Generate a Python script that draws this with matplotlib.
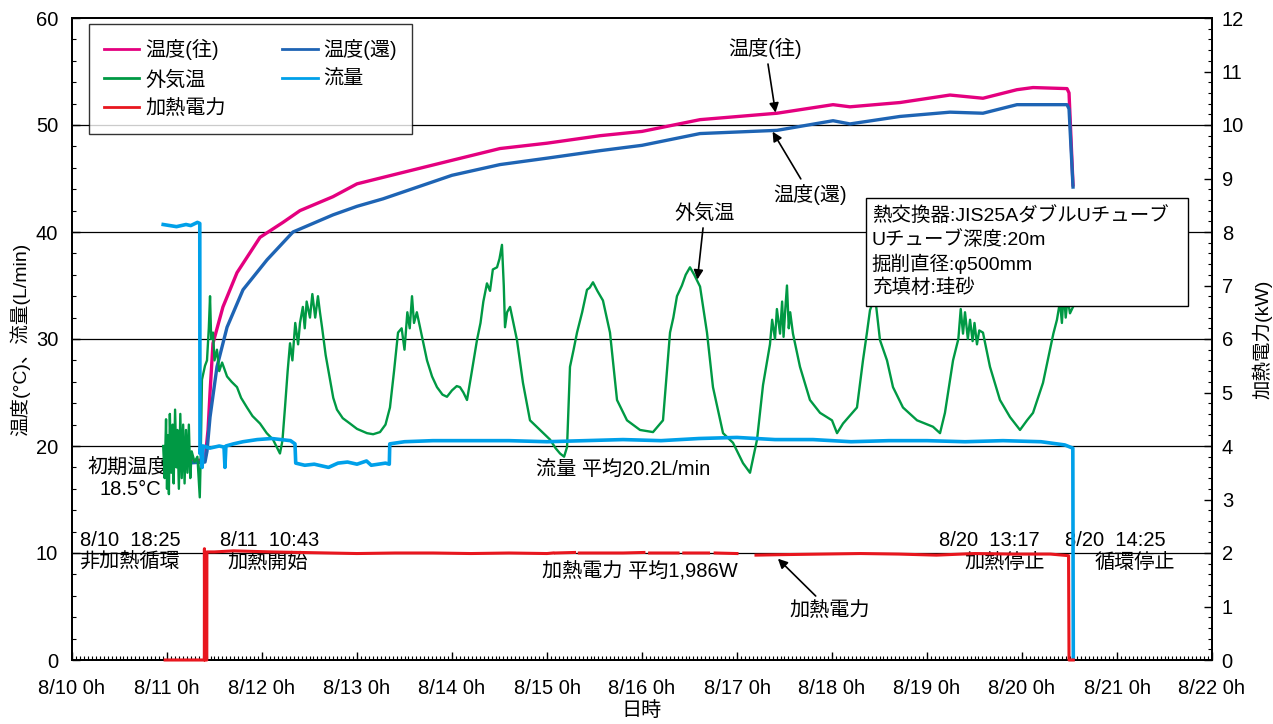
import numpy as np
import matplotlib
matplotlib.use("Agg")
import matplotlib.pyplot as plt
from matplotlib.ticker import MultipleLocator
from matplotlib.patches import Rectangle

plt.rcParams['font.family'] = ['Liberation Sans', 'Noto Sans CJK JP']
plt.rcParams['font.size'] = 14.5

# time axis: days elapsed since 8/10 0:00
day_labels = [f"8/{10 + i} 0h" for i in range(13)]

# supply temperature (往), °C
t_supply = [0.98, 1.20, 1.400, 1.432, 1.453, 1.484, 1.589, 1.737, 1.979, 2.221, 2.400, 2.747,
            3.000, 3.453, 4.000, 4.505, 5.000, 5.558, 6.000, 6.611, 7.421, 8.011, 8.189, 8.716,
            9.242, 9.589, 9.947, 10.116, 10.474, 10.495, 10.537]
v_supply = [18.6, 18.6, 18.7, 21.5, 25.0, 29.6, 33.0, 36.2, 39.5, 40.9, 42.0, 43.3,
            44.5, 45.5, 46.7, 47.8, 48.3, 49.0, 49.4, 50.5, 51.1, 51.9, 51.7, 52.1,
            52.8, 52.5, 53.3, 53.5, 53.4, 53.0, 44.4]

# return temperature (還), °C
t_return = [0.98, 1.20, 1.400, 1.421, 1.453, 1.526, 1.632, 1.800, 2.053, 2.326, 2.747, 3.000,
            3.274, 4.000, 4.505, 5.000, 5.558, 6.000, 6.611, 7.421, 8.011, 8.189, 8.716, 9.242,
            9.589, 9.947, 10.295, 10.474, 10.495, 10.537]
v_return = [18.4, 18.4, 18.5, 19.5, 22.7, 27.4, 31.1, 34.6, 37.4, 40.0, 41.6, 42.4,
            43.1, 45.3, 46.3, 46.9, 47.6, 48.1, 49.2, 49.5, 50.4, 50.1, 50.8, 51.2,
            51.1, 51.9, 51.9, 51.9, 51.5, 44.2]

# outside air temperature (外気温), °C
t_air = [0.960, 0.975, 0.990, 1.000, 1.010, 1.020, 1.030, 1.045, 1.060, 1.070, 1.085, 1.100,
         1.110, 1.125, 1.140, 1.155, 1.170, 1.185, 1.200, 1.215, 1.230, 1.245, 1.260, 1.290,
         1.320, 1.345, 1.355, 1.368, 1.400, 1.421, 1.440, 1.453, 1.465, 1.484, 1.500, 1.526,
         1.550, 1.580, 1.632, 1.680, 1.737, 1.780, 1.842, 1.900, 1.979, 2.050, 2.116, 2.150,
         2.189, 2.215, 2.242, 2.270, 2.295, 2.320, 2.350, 2.380, 2.400, 2.430, 2.450, 2.470,
         2.505, 2.530, 2.560, 2.589, 2.610, 2.632, 2.670, 2.716, 2.750, 2.789, 2.850, 2.926,
         3.000, 3.105, 3.170, 3.242, 3.300, 3.347, 3.390, 3.432, 3.470, 3.500, 3.530, 3.555,
         3.579, 3.600, 3.630, 3.663, 3.700, 3.737, 3.790, 3.842, 3.900, 3.947, 4.000, 4.050,
         4.084, 4.120, 4.158, 4.200, 4.263, 4.300, 4.330, 4.368, 4.400, 4.430, 4.474, 4.500,
         4.526, 4.545, 4.558, 4.580, 4.611, 4.684, 4.747, 4.821, 4.926, 5.032, 5.090, 5.137,
         5.180, 5.211, 5.242, 5.280, 5.316, 5.370, 5.421, 5.450, 5.484, 5.530, 5.589, 5.663,
         5.737, 5.842, 5.979, 6.116, 6.221, 6.295, 6.330, 6.368, 6.420, 6.460, 6.505, 6.550,
         6.611, 6.684, 6.747, 6.853, 6.958, 7.063, 7.137, 7.211, 7.274, 7.347, 7.370, 7.400,
         7.420, 7.453, 7.475, 7.490, 7.510, 7.526, 7.545, 7.560, 7.589, 7.663, 7.768, 7.874,
         8.000, 8.053, 8.116, 8.263, 8.326, 8.368, 8.400, 8.453, 8.505, 8.579, 8.642, 8.747,
         8.895, 9.063, 9.137, 9.189, 9.274, 9.330, 9.355, 9.379, 9.400, 9.430, 9.453, 9.480,
         9.500, 9.526, 9.550, 9.589, 9.663, 9.768, 9.874, 9.979, 10.053, 10.116, 10.221, 10.295,
         10.330, 10.368, 10.400, 10.420, 10.440, 10.460, 10.480, 10.505, 10.537]
v_air = [20.0, 17.0, 22.5, 16.0, 21.0, 15.5, 23.0, 17.5, 22.0, 16.5, 23.4, 18.0,
         21.5, 16.0, 23.0, 17.0, 22.0, 16.5, 21.5, 17.5, 22.0, 17.0, 19.5, 18.5,
         19.0, 15.2, 19.0, 26.2, 27.5, 28.0, 31.0, 34.0, 30.0, 30.6, 28.0, 29.0,
         27.0, 27.8, 26.5, 26.0, 25.5, 24.5, 23.6, 22.8, 22.1, 21.2, 20.6, 20.0,
         19.3, 20.5, 23.6, 27.0, 29.6, 28.0, 31.5, 29.5, 31.5, 33.0, 31.0, 33.5,
         32.0, 34.2, 32.0, 34.0, 32.5, 31.1, 28.5, 26.2, 24.5, 23.4, 22.6, 22.1,
         21.6, 21.2, 21.1, 21.3, 22.0, 23.6, 27.0, 30.6, 31.0, 29.0, 32.5, 31.0,
         34.0, 31.5, 32.5, 31.1, 29.5, 28.0, 26.5, 25.5, 24.8, 24.6, 25.2, 25.6,
         25.5, 25.0, 24.3, 26.5, 29.9, 31.5, 33.5, 35.2, 34.5, 36.5, 36.7, 37.5,
         38.8, 35.0, 31.1, 32.5, 33.0, 29.9, 25.9, 22.4, 21.5, 20.6, 19.8, 19.3,
         19.0, 19.9, 27.4, 29.0, 30.6, 32.5, 34.6, 34.8, 35.3, 34.5, 33.6, 30.6,
         24.3, 22.4, 21.5, 21.3, 22.4, 30.6, 32.0, 34.0, 35.0, 36.0, 36.7, 36.0,
         34.9, 30.6, 25.5, 21.2, 20.3, 18.4, 17.5, 20.6, 25.7, 29.5, 31.8, 30.0,
         32.8, 30.5, 33.5, 30.2, 33.0, 35.0, 31.0, 32.5, 30.5, 27.4, 24.3, 23.1,
         22.4, 21.2, 22.1, 23.6, 28.0, 30.6, 32.7, 34.0, 29.9, 28.0, 25.5, 23.6,
         22.4, 21.8, 21.2, 23.1, 28.0, 30.0, 32.8, 30.5, 32.5, 30.0, 31.8, 29.8,
         31.5, 29.5, 30.8, 30.6, 27.4, 24.3, 22.7, 21.5, 22.4, 23.1, 25.9, 29.0,
         30.5, 31.8, 33.5, 31.5, 34.5, 32.0, 33.8, 32.4, 33.0]

# circulation flow rate (流量), L/min
t_flow = [0.96, 1.10, 1.20, 1.25, 1.32, 1.345, 1.347, 1.36, 1.37, 1.38, 1.45, 1.55,
          1.60, 1.61, 1.62, 1.70, 1.80, 1.95, 2.10, 2.20, 2.30, 2.347, 2.355, 2.45,
          2.55, 2.70, 2.80, 2.90, 3.00, 3.10, 3.15, 3.30, 3.34, 3.345, 3.50, 3.80,
          4.20, 4.60, 5.00, 5.40, 5.80, 6.20, 6.60, 7.00, 7.40, 7.80, 8.20, 8.60,
          9.00, 9.40, 9.80, 10.20, 10.45, 10.535, 10.540]
v_flow = [40.7, 40.5, 40.7, 40.6, 40.9, 40.8, 19.3, 20.0, 18.0, 20.0, 19.8, 20.0,
          19.9, 18.0, 20.0, 20.2, 20.4, 20.6, 20.7, 20.6, 20.5, 20.2, 18.4, 18.2,
          18.3, 18.0, 18.4, 18.5, 18.3, 18.6, 18.2, 18.4, 18.3, 20.2, 20.4, 20.5,
          20.5, 20.5, 20.4, 20.5, 20.6, 20.5, 20.7, 20.8, 20.6, 20.6, 20.4, 20.5,
          20.5, 20.4, 20.5, 20.4, 20.1, 19.8, 0.0]

# heating power (加熱電力), kW
t_power = [0.98, 1.393, 1.394, 1.397, 1.419, 1.420, 1.50, 1.70, 1.90, 2.10, 2.40, 2.70,
           3.00, 3.40, 3.80, 4.20, 4.60, 5.00, 5.06, 5.07, 5.09, 5.29, 5.30, 5.34,
           5.80, 6.02, 6.03, 6.08, 6.38, 6.39, 6.44, 6.70, 6.71, 6.77, 7.00, 7.01,
           7.20, 7.50, 7.90, 8.30, 8.70, 9.10, 9.50, 9.90, 10.30, 10.49, 10.495, 10.54]
v_power = [0.0, 0.0, 2.08, 0.0, 0.0, 2.02, 2.02, 2.04, 2.03, 2.02, 2.01, 2.00,
           1.99, 2.00, 2.00, 1.99, 2.00, 1.99, 2.00, np.nan, 2.00, 2.01, np.nan, 2.00,
           2.00, 2.01, np.nan, 2.00, 2.00, np.nan, 2.00, 2.00, np.nan, 2.00, 1.99, np.nan,
           1.96, 1.97, 1.98, 1.99, 1.98, 1.96, 1.99, 1.98, 1.98, 1.95, 0.0, 0.0]

C_SUPPLY = '#E4007F'
C_RETURN = '#1E64B4'
C_AIR = '#009944'
C_FLOW = '#00A0E9'
C_POWER = '#E8161E'

fig = plt.figure(figsize=(12.73, 7.24), dpi=100)
ax = fig.add_axes([72 / 1273, 64 / 724, 1140 / 1273, 642 / 724])
ax2 = ax.twinx()

ax.set_xlim(0, 12)
ax.set_ylim(0, 60)
ax2.set_ylim(0, 12)

for g in range(10, 60, 10):
    ax.axhline(g, color='black', lw=0.9, zorder=1)

l_sup, = ax.plot(t_supply, v_supply, color=C_SUPPLY, lw=2.4, zorder=3, label='温度(往)')
l_ret, = ax.plot(t_return, v_return, color=C_RETURN, lw=2.4, zorder=3, label='温度(還)')
l_air, = ax.plot(t_air, v_air, color=C_AIR, lw=1.7, zorder=4, label='外気温')
l_flow, = ax.plot(t_flow, v_flow, color=C_FLOW, lw=2.6, zorder=5, label='流量')
l_pow, = ax2.plot(t_power, v_power, color=C_POWER, lw=2.2, zorder=5, clip_on=False,
                  label='加熱電力')

# axes, ticks
ax.set_xticks(range(13))
ax.set_xticklabels(day_labels)
ax.xaxis.set_minor_locator(MultipleLocator(1 / 24))
ax.yaxis.set_major_locator(MultipleLocator(10))
ax.yaxis.set_minor_locator(MultipleLocator(2))
ax2.yaxis.set_major_locator(MultipleLocator(1))
ax2.yaxis.set_minor_locator(MultipleLocator(0.2))
ax.tick_params(axis='both', which='major', direction='in', length=6, width=1.0)
ax.tick_params(axis='both', which='minor', direction='in', length=3, width=0.8)
ax.tick_params(axis='x', which='major', pad=14)
ax.tick_params(axis='y', which='major', pad=10)
ax2.tick_params(axis='y', which='major', direction='in', length=6, width=1.0, pad=7)
ax2.tick_params(axis='y', which='minor', direction='in', length=3, width=0.8)
for a in (ax, ax2):
    for s in a.spines.values():
        s.set_linewidth(1.3)

ax.set_xlabel('日時', labelpad=2)
ax.set_ylabel('温度(°C)、流量(L/min)', labelpad=4, fontsize=14)
ax2.set_ylabel('加熱電力(kW)', labelpad=6, fontsize=14)

# legend
leg = ax2.legend(handles=[l_sup, l_air, l_pow, l_ret, l_flow], ncol=2, loc='upper left',
                 bbox_to_anchor=(0.015, 0.991), borderaxespad=0, frameon=True,
                 fancybox=False, edgecolor='black', handlelength=1.75, handletextpad=0.3,
                 columnspacing=2.8, labelspacing=0.5, borderpad=0.75)
leg.get_frame().set_linewidth(1.0)
for h in leg.get_lines():
    h.set_linewidth(2.0)

# annotations (placed in temperature-axis coordinates)
arrow = dict(arrowstyle='-|>', color='black', lw=1.2, mutation_scale=14)
ax2.annotate('温度(往)', xy=(7.41, 50.9), xytext=(7.30, 57.2), xycoords=ax.transData,
             textcoords=ax.transData, ha='center', va='center', arrowprops=arrow)
ax2.annotate('温度(還)', xy=(7.36, 49.6), xytext=(7.77, 43.5), xycoords=ax.transData,
             textcoords=ax.transData, ha='center', va='center', arrowprops=arrow)
ax2.annotate('外気温', xy=(6.58, 35.3), xytext=(6.66, 41.8), xycoords=ax.transData,
             textcoords=ax.transData, ha='center', va='center', arrowprops=arrow)
ax2.annotate('加熱電力', xy=(7.41, 1.93), xytext=(7.98, 0.93),
             ha='center', va='center', arrowprops=arrow)

ax.text(0.59, 18.0, '初期温度', ha='center', va='center')
ax.text(0.61, 15.9, '18.5°C', ha='center', va='center')
ax.text(0.61, 11.2, '8/10  18:25', ha='center', va='center')
ax.text(0.61, 9.1, '非加熱循環', ha='center', va='center')
ax.text(2.08, 11.2, '8/11  10:43', ha='center', va='center')
ax.text(2.06, 9.1, '加熱開始', ha='center', va='center')
ax.text(5.80, 17.8, '流量 平均20.2L/min', ha='center', va='center')
ax.text(5.98, 8.2, '加熱電力 平均1,986W', ha='center', va='center')
ax.text(9.66, 11.2, '8/20  13:17', ha='center', va='center')
ax.text(9.82, 9.1, '加熱停止', ha='center', va='center')
ax.text(10.98, 11.2, '8/20  14:25', ha='center', va='center')
ax.text(11.19, 9.1, '循環停止', ha='center', va='center')

# heat-exchanger specification box
box = Rectangle((8.358, 33.08), 3.39, 10.1, transform=ax.transData, fc='white',
                ec='black', lw=1.0, zorder=10)
ax2.add_patch(box)
spec_lines = ['熱交換器:JIS25AダブルUチューブ', 'Uチューブ深度:20m', '掘削直径:φ500mm', '充填材:珪砂']
for i, line in enumerate(spec_lines):
    ax2.text(8.42, 41.5 - 2.24 * i, line, transform=ax.transData, ha='left', va='center',
             fontsize=14, zorder=11)

fig.savefig('out.png', dpi=100)
